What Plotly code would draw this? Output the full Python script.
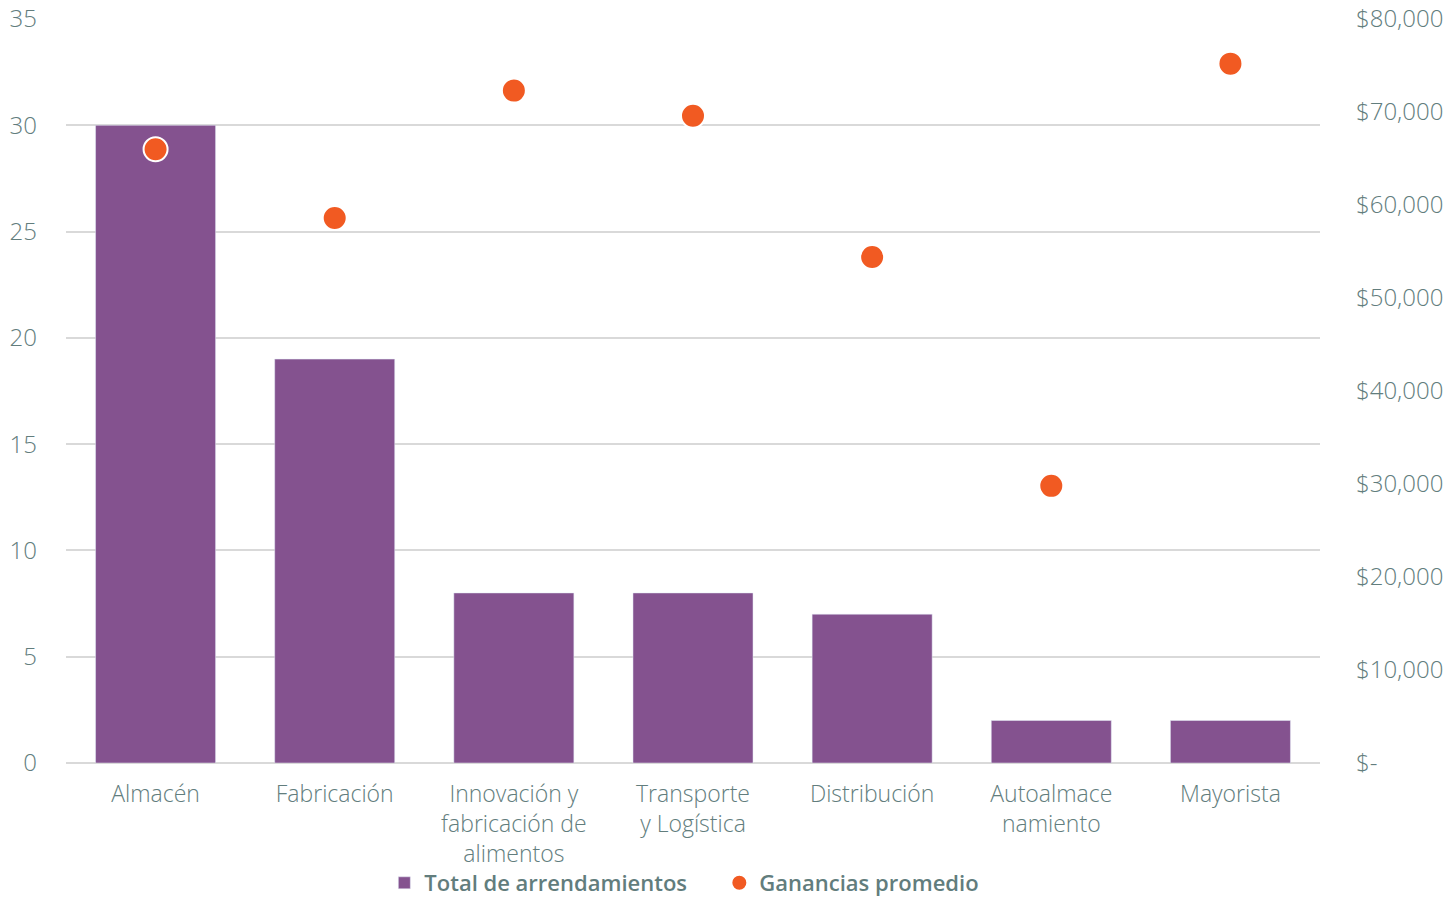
import plotly.graph_objects as go

categories = ["Almacén", "Fabricación", "Innovación y<br>fabricación de<br>alimentos",
              "Transporte<br>y Logística", "Distribución", "Autoalmace<br>namiento", "Mayorista"]
total_arrendamientos = [30, 19, 8, 8, 7, 2, 2]
ganancias_promedio = [66000, 58600, 72300, 69600, 54400, 29800, 75200]

left_ticks = [0, 5, 10, 15, 20, 25, 30, 35]
right_tickvals = [0, 10000, 20000, 30000, 40000, 50000, 60000, 70000, 80000]
right_ticktext = ["$-", "$10,000", "$20,000", "$30,000", "$40,000", "$50,000",
                  "$60,000", "$70,000", "$80,000"]

TXT = "#627d7d"
GRID = "#d9d9d9"
FONT = "Open Sans"

fig = go.Figure()
fig.add_trace(go.Bar(
    x=categories, y=total_arrendamientos, name="Total de arrendamientos",
    marker=dict(color="#84528f"), yaxis="y",
))
fig.add_trace(go.Scatter(
    x=categories, y=ganancias_promedio, name="Ganancias promedio", mode="markers",
    marker=dict(color="#f15a22", size=24, line=dict(color="white", width=2)),
    yaxis="y2",
))

fig.update_layout(
    width=1445, height=897,
    margin=dict(l=66, r=125, t=19, b=134),
    paper_bgcolor="white", plot_bgcolor="white",
    font=dict(family=FONT, color=TXT, size=22),
    bargap=0.33,
    xaxis=dict(showgrid=False, showline=False, ticks="", automargin=False,
               tickfont=dict(size=23, color=TXT, weight=300), ticklabelstandoff=15),
    yaxis=dict(range=[0, 35], tickvals=left_ticks, showgrid=True, gridcolor=GRID, gridwidth=2,
               zeroline=True, zerolinecolor=GRID, zerolinewidth=2, automargin=False,
               tickfont=dict(size=24, color=TXT, weight=300), ticklabelstandoff=28),
    yaxis2=dict(range=[0, 80000], overlaying="y", side="right", tickvals=right_tickvals,
                ticktext=right_ticktext, showgrid=False, zeroline=False, automargin=False,
                tickfont=dict(size=24, color=TXT, weight=300), ticklabelstandoff=35),
    legend=dict(orientation="h", x=0.521, xanchor="center", yref="container",
                y=0.0156, yanchor="middle", bgcolor="rgba(0,0,0,0)",
                font=dict(size=22, color=TXT, weight=600), itemwidth=30,
                entrywidth=290, entrywidthmode="pixels", traceorder="normal"),
)

fig.write_html("out.html")
